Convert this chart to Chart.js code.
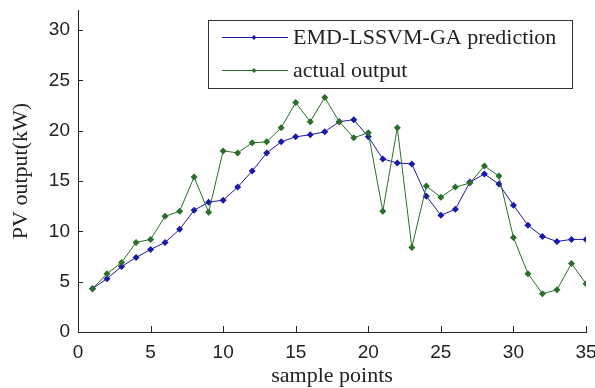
<!DOCTYPE html>
<html>
<head>
<meta charset="utf-8">
<script src="https://cdn.jsdelivr.net/npm/chart.js@4/dist/chart.umd.min.js"></script>
<style>
  html, body { margin: 0; padding: 0; background: #fff; }
  canvas { display: block; }
</style>
</head>
<body>
<canvas id="grafico" width="595" height="388"></canvas>
<script>
// sample index on the x axis
const samplePoints = [1, 2, 3, 4, 5, 6, 7, 8, 9, 10, 11, 12, 13, 14, 15, 16, 17, 18, 19, 20,
  21, 22, 23, 24, 25, 26, 27, 28, 29, 30, 31, 32, 33, 34, 35];

// EMD-LSSVM-GA prediction (kW)
const prediccion = [4.3, 5.3, 6.5, 7.4, 8.2, 8.9, 10.2, 12.1, 12.9, 13.1, 14.4, 16.0, 17.8, 18.9, 19.4,
  19.6, 19.9, 20.9, 21.1, 19.4, 17.2, 16.8, 16.7, 13.5, 11.6, 12.2, 14.9, 15.7, 14.7, 12.6,
  10.6, 9.5, 9.0, 9.2, 9.2];

// actual output (kW)
const real = [4.3, 5.8, 6.9, 8.9, 9.2, 11.5, 12.0, 15.4, 11.9, 18.0, 17.8, 18.8, 18.9, 20.3, 22.8,
  20.9, 23.3, 20.9, 19.3, 19.8, 12.0, 20.3, 8.4, 14.5, 13.4, 14.4, 14.8, 16.5, 15.5, 9.4,
  5.8, 3.8, 4.2, 6.8, 4.8];

const xTicks = [0, 5, 10, 15, 20, 25, 30, 35];
const yTicks = [0, 5, 10, 15, 20, 25, 30];

const nombres = ["EMD-LSSVM-GA prediction", "actual output"];
const colores = ["#1a1aa8", "#2a6e2a"];

const tickFont = { family: "'Liberation Sans', Arial, sans-serif", size: 19 };
const serif = "'Liberation Serif', 'Times New Roman', serif";
const ink = "#222";

function puntos(vals) {
  return samplePoints.map((x, i) => ({ x: x, y: vals[i] }));
}

function rombo(ctx, x, y, r, color) {
  ctx.beginPath();
  ctx.moveTo(x, y - r);
  ctx.lineTo(x + r, y);
  ctx.lineTo(x, y + r);
  ctx.lineTo(x - r, y);
  ctx.closePath();
  ctx.fillStyle = color;
  ctx.fill();
}

// MATLAB style ticks pointing into the plot
const ticksAdentro = {
  id: "ticksAdentro",
  afterDraw(chart) {
    const ctx = chart.ctx;
    const { left, bottom } = chart.chartArea;
    const sx = chart.scales.x, sy = chart.scales.y;
    ctx.save();
    ctx.strokeStyle = ink;
    ctx.lineWidth = 1;
    ctx.beginPath();
    xTicks.forEach(v => {
      const px = Math.round(sx.getPixelForValue(v)) + 0.5;
      ctx.moveTo(px, bottom);
      ctx.lineTo(px, bottom - 6);
    });
    yTicks.forEach(v => {
      const py = Math.round(sy.getPixelForValue(v)) + 0.5;
      ctx.moveTo(left, py);
      ctx.lineTo(left + 5, py);
    });
    ctx.stroke();
    ctx.restore();
  }
};

// boxed legend inside the plot
const leyenda = {
  id: "leyenda",
  afterDraw(chart) {
    const ctx = chart.ctx;
    const bx = 208.5, by = 20.5, bw = 364, bh = 68;
    ctx.save();
    ctx.fillStyle = "#fff";
    ctx.fillRect(bx, by, bw, bh);
    ctx.strokeStyle = "#333";
    ctx.lineWidth = 1;
    ctx.strokeRect(bx, by, bw, bh);
    const filas = [37.5, 70.5];
    chart.data.datasets.forEach((ds, i) => {
      const y = filas[i];
      ctx.strokeStyle = ds.borderColor;
      ctx.lineWidth = 1;
      ctx.beginPath();
      ctx.moveTo(222, y);
      ctx.lineTo(288, y);
      ctx.stroke();
      rombo(ctx, 254, y, 2.5, ds.borderColor);
      ctx.fillStyle = ink;
      ctx.font = "22px " + serif;
      ctx.textAlign = "left";
      ctx.textBaseline = "middle";
      ctx.fillText(ds.label, 293, y + 1);
    });
    ctx.restore();
  }
};

new Chart(document.getElementById("grafico").getContext("2d"), {
  type: "line",
  data: {
    datasets: [
      {
        label: nombres[0],
        data: puntos(prediccion),
        borderColor: colores[0],
        backgroundColor: colores[0],
        borderWidth: 1,
        pointStyle: "rectRot",
        pointRadius: 3.5,
        pointBorderWidth: 0,
        tension: 0,
        order: 1
      },
      {
        label: nombres[1],
        data: puntos(real),
        borderColor: colores[1],
        backgroundColor: colores[1],
        borderWidth: 1,
        pointStyle: "rectRot",
        pointRadius: 3.5,
        pointBorderWidth: 0,
        tension: 0,
        order: 0
      }
    ]
  },
  options: {
    responsive: false,
    animation: false,
    layout: { padding: { left: 0, top: 10, right: 9, bottom: 0 } },
    plugins: {
      legend: { display: false },
      tooltip: { enabled: false }
    },
    scales: {
      x: {
        type: "linear",
        min: 0,
        max: 35,
        afterBuildTicks: s => { s.ticks = xTicks.map(v => ({ value: v })); },
        afterFit: s => { s.height = 56; s.paddingLeft = 0; s.paddingRight = 0; },
        ticks: { color: ink, font: tickFont, padding: 9, maxRotation: 0, autoSkip: false },
        grid: { display: false, drawTicks: false },
        border: { display: true, color: ink, width: 1 },
        title: {
          display: true,
          text: "sample points",
          color: ink,
          font: { family: serif, size: 22, lineHeight: 1 },
          padding: { top: 0, bottom: 1 }
        }
      },
      y: {
        min: 0,
        max: 32,
        afterBuildTicks: s => { s.ticks = yTicks.map(v => ({ value: v })); },
        afterFit: s => { s.width = 78; s.paddingTop = 0; s.paddingBottom = 0; },
        ticks: { color: ink, font: tickFont, padding: 8, autoSkip: false },
        grid: { display: false, drawTicks: false },
        border: { display: true, color: ink, width: 1 },
        title: {
          display: true,
          text: "PV output(kW)",
          color: ink,
          font: { family: serif, size: 22, lineHeight: 1 },
          padding: { top: 10, bottom: 0 }
        }
      }
    }
  },
  plugins: [ticksAdentro, leyenda]
});
</script>
</body>
</html>
